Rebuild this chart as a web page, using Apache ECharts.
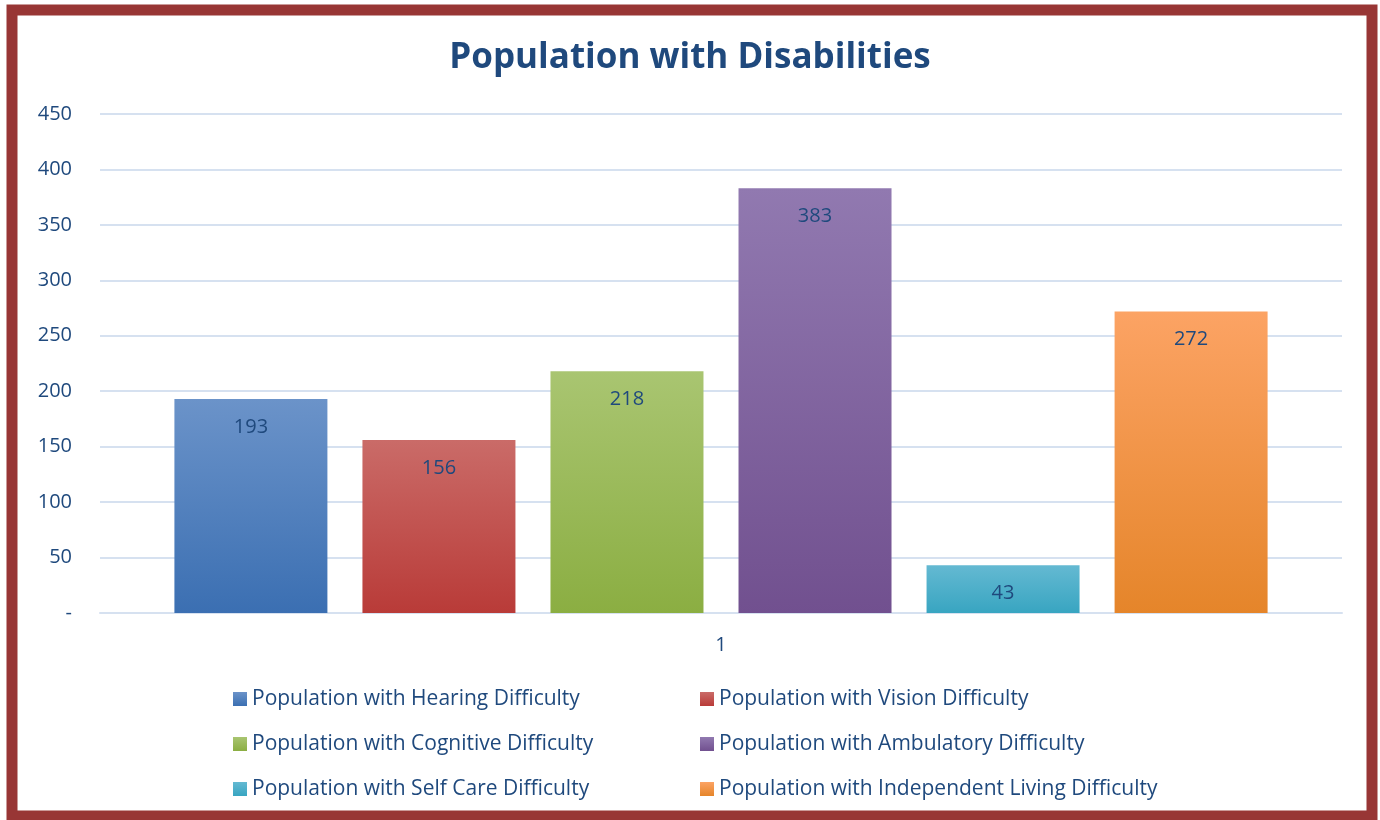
<!DOCTYPE html>
<html>
<head>
<meta charset="utf-8">
<script src="https://cdn.jsdelivr.net/npm/echarts@6/dist/echarts.min.js"></script>
<style>
html,body{margin:0;padding:0;background:#fff;}
#chart{width:1380px;height:820px;}
</style>
</head>
<body>
<div id="chart"></div>
<script>
const categories = ['1'];
const seriesNames = [
  'Population with Hearing Difficulty',
  'Population with Vision Difficulty',
  'Population with Cognitive Difficulty',
  'Population with Ambulatory Difficulty',
  'Population with Self Care Difficulty',
  'Population with Independent Living Difficulty'
];
const seriesValues = [193, 156, 218, 383, 43, 272];
const yTicks = [0, 50, 100, 150, 200, 250, 300, 350, 400, 450];

const gradTop = ['#6b93c9', '#ca6b68', '#a9c571', '#9179b0', '#64b9d2', '#fca364'];
const gradBot = ['#3b6fb2', '#b93b38', '#8bae42', '#71508f', '#38a5c1', '#e5852a'];
const textColor = '#1f497d';
const font = '"Open Sans", Lato, sans-serif';

const chart = echarts.init(document.getElementById('chart'), null, {renderer: 'canvas'});

function grad(i) {
  return new echarts.graphic.LinearGradient(0, 0, 0, 1, [
    {offset: 0, color: gradTop[i]},
    {offset: 1, color: gradBot[i]}
  ]);
}

const series = seriesNames.map((name, i) => ({
  name: name,
  type: 'bar',
  data: [seriesValues[i]],
  barWidth: 153,
  barGap: '22.9%',
  itemStyle: {color: grad(i)},
  label: {
    show: true,
    position: 'insideTop',
    distance: 18,
    color: textColor,
    fontFamily: font,
    fontSize: 20
  }
}));

const legendText = {color: textColor, fontFamily: font, fontSize: 21, lineHeight: 22};

chart.setOption({
  animation: false,
  backgroundColor: '#ffffff',
  title: {
    text: 'Population with Disabilities',
    left: 'center',
    top: 36,
    textStyle: {color: textColor, fontFamily: font, fontSize: 35, fontWeight: 'bold'}
  },
  legend: [
    {
      data: [seriesNames[0], seriesNames[2], seriesNames[4]],
      orient: 'vertical',
      left: 233, top: 688, padding: 0,
      itemWidth: 14, itemHeight: 14, itemGap: 23,
      icon: 'rect',
      textStyle: legendText
    },
    {
      data: [seriesNames[1], seriesNames[3], seriesNames[5]],
      orient: 'vertical',
      left: 700, top: 688, padding: 0,
      itemWidth: 14, itemHeight: 14, itemGap: 23,
      icon: 'rect',
      textStyle: legendText
    }
  ],
  grid: {left: 100, right: 38, top: 114, bottom: 207, containLabel: false},
  xAxis: {
    type: 'category',
    data: categories,
    axisLine: {show: true, lineStyle: {color: '#d6e1f0', width: 2}},
    axisTick: {show: false},
    axisLabel: {color: textColor, fontFamily: font, fontSize: 20, margin: 22}
  },
  yAxis: {
    type: 'value',
    min: 0, max: 450, interval: 50,
    axisLine: {show: false},
    axisTick: {show: false},
    splitLine: {lineStyle: {color: '#d6e1f0', width: 2}},
    axisLabel: {
      color: textColor, fontFamily: font, fontSize: 20, margin: 28,
      formatter: v => (yTicks.indexOf(v) >= 0 ? (v === 0 ? '-' : String(v)) : '')
    }
  },
  graphic: [
    {
      type: 'rect',
      shape: {x: 12, y: 10, width: 1360, height: 806},
      style: {fill: 'none', stroke: '#983635', lineWidth: 11},
      silent: true,
      z: 100
    }
  ],
  series: series
});
</script>
</body>
</html>
